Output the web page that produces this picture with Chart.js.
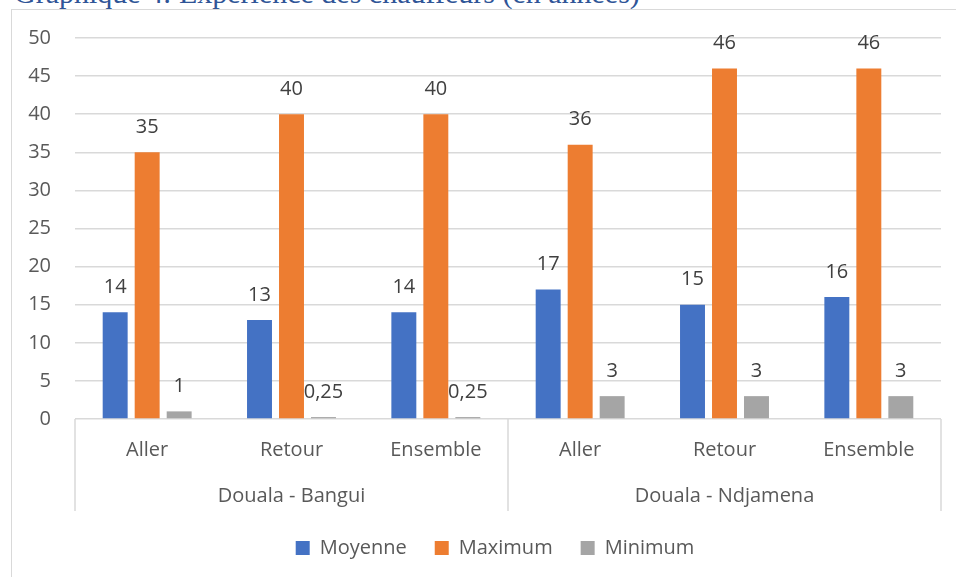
<!DOCTYPE html>
<html>
<head>
<meta charset="utf-8">
<script src="https://cdn.jsdelivr.net/npm/chart.js@4/dist/chart.umd.min.js"></script>
<style>
  html, body { margin:0; padding:0; background:#fff; overflow:hidden; }
  #wrap { position:absolute; left:0; top:0; width:956px; height:577px; overflow:hidden; }
  #frame { position:absolute; left:11px; top:9px; width:1000px; height:1000px; border-left:1.5px solid #d9d9d9; border-top:1.5px solid #d9d9d9; box-sizing:border-box; }
  #title { position:absolute; left:14px; top:-22px; line-height:30px; font-family:"Liberation Serif","DejaVu Serif",serif; font-weight:normal; font-size:30px; color:#2F5597; white-space:nowrap; }
  canvas { position:absolute; left:0; top:0; }
</style>
</head>
<body>
<div id="wrap">
  <div id="frame"></div>
  <div id="title">Graphique 4: Expérience des chauffeurs (en années)</div>
  <canvas id="c" width="956" height="577"></canvas>
</div>
<script>
const categories = ["Aller", "Retour", "Ensemble", "Aller", "Retour", "Ensemble"];
const groups = ["Douala - Bangui", "Douala - Ndjamena"];
const groupSizes = [3, 3];
const seriesNames = ["Moyenne", "Maximum", "Minimum"];
const moyenne = [14, 13, 14, 17, 15, 16];
const maximum = [35, 40, 40, 36, 46, 46];
const minimum = [1, 0.25, 0.25, 3, 3, 3];
const yTicks = [0, 5, 10, 15, 20, 25, 30, 35, 40, 45, 50];

const FONT = '"Open Sans", "Liberation Sans", sans-serif';
const TXT = '#595959';

const labelPlugin = {
  id: 'valueLabels',
  afterDatasetsDraw(chart) {
    const ctx = chart.ctx;
    ctx.save();
    ctx.font = '20px ' + FONT;
    ctx.fillStyle = '#404040';
    ctx.textAlign = 'center';
    ctx.textBaseline = 'middle';
    chart.data.datasets.forEach((ds, di) => {
      const meta = chart.getDatasetMeta(di);
      meta.data.forEach((el, i) => {
        const v = ds.data[i];
        ctx.fillText(String(v).replace('.', ','), el.x, el.y - 25);
      });
    });
    ctx.restore();
  }
};

const groupPlugin = {
  id: 'groupAxis',
  afterLayout(chart) {
    const lg = chart.legend;
    if (lg) { lg.left = 49; lg.width = lg.right - lg.left; }
  },
  afterDraw(chart) {
    const ctx = chart.ctx;
    const xs = chart.scales.x;
    const bottom = chart.chartArea.bottom;
    const step = (xs.right - xs.left) / categories.length;
    ctx.save();
    ctx.strokeStyle = '#d9d9d9';
    ctx.lineWidth = 1.5;
    let start = 0;
    const bounds = [xs.left];
    groupSizes.forEach(n => { start += n; bounds.push(xs.left + step * start); });
    bounds.forEach(b => {
      ctx.beginPath();
      ctx.moveTo(b, bottom);
      ctx.lineTo(b, bottom + 92);
      ctx.stroke();
    });
    ctx.font = '20px ' + FONT;
    ctx.fillStyle = TXT;
    ctx.textAlign = 'center';
    ctx.textBaseline = 'middle';
    groups.forEach((g, i) => {
      ctx.fillText(g, (bounds[i] + bounds[i + 1]) / 2, bottom + 77);
    });
    ctx.restore();
  }
};

new Chart(document.getElementById('c'), {
  type: 'bar',
  data: {
    labels: categories,
    datasets: [
      { label: seriesNames[0], data: moyenne, backgroundColor: '#4472C4' },
      { label: seriesNames[1], data: maximum, backgroundColor: '#ED7D31' },
      { label: seriesNames[2], data: minimum, backgroundColor: '#A5A5A5' }
    ]
  },
  options: {
    responsive: false,
    animation: false,
    devicePixelRatio: 1,
    categoryPercentage: 0.665,
    barPercentage: 0.78,
    layout: { padding: { left: 0, right: 15, top: 38, bottom: 9 } },
    scales: {
      x: {
        grid: { display: false },
        border: { display: false },
        ticks: { font: { size: 20, family: FONT }, color: TXT, padding: 11 },
        afterFit(scale) { scale.height = 91; }
      },
      y: {
        min: 0, max: 50,
        afterBuildTicks(scale) { scale.ticks = yTicks.map(v => ({ value: v })); },
        grid: { color: '#d9d9d9', lineWidth: 1.5, drawTicks: false },
        border: { display: false },
        ticks: { font: { size: 20, family: FONT }, color: TXT, padding: 24 },
        afterFit(scale) { scale.width = 75; }
      }
    },
    plugins: {
      legend: {
        position: 'bottom',
        labels: { font: { size: 20, family: FONT }, color: TXT, boxWidth: 14, boxHeight: 14, padding: 28 }
      },
      tooltip: { enabled: false }
    }
  },
  plugins: [labelPlugin, groupPlugin]
});
</script>
</body>
</html>
